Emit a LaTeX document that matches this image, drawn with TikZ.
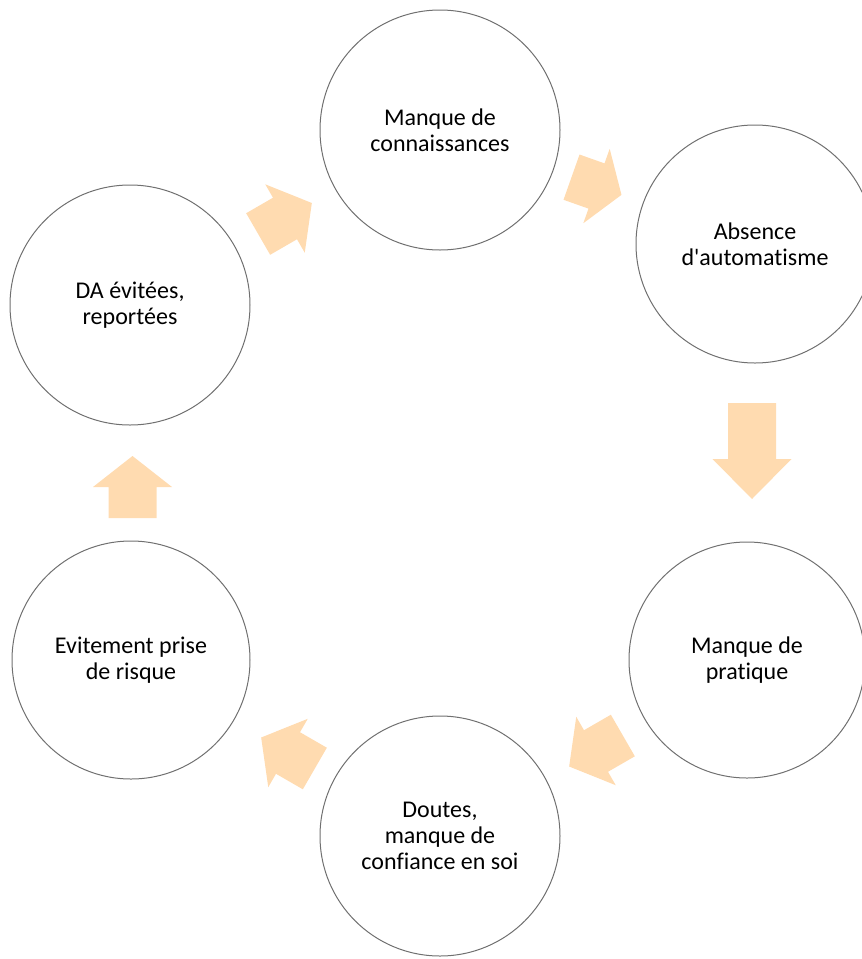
\documentclass[tikz,border=0pt]{standalone}
\usepackage{fontspec}
\setmainfont{Carlito}[Ligatures={NoCommon}]

\definecolor{ringgray}{RGB}{112,112,112}
\definecolor{arrowfill}{RGB}{255,219,176}

\tikzset{
    pics/blockarrow/.style n args={2}{code={
        \fill[arrowfill] (-#1/2,-24) -- (#1/2-#2,-24) -- (#1/2-#2,-39.5) -- (#1/2,0)
            -- (#1/2-#2,39.5) -- (#1/2-#2,24) -- (-#1/2,24) -- cycle;
    }}
}

\begin{document}
\begin{tikzpicture}[
        x=1pt, y=-1pt,
        every node/.style = {shape=circle, draw=ringgray, line width=1pt, align=center, inner sep=0pt, font=\fontsize{24}{26}\selectfont}
    ]
        \useasboundingbox (0,0) rectangle (862,959);

        \node (knowledge) [minimum size=240pt] at (440,130) {Manque de\\connaissances};
        \node (automatism) [minimum size=238pt] at (755,244) {Absence\\d\textquotesingle automatisme};
        \node (practice) [minimum size=236pt] at (747,660) {Manque de\\pratique};
        \node (doubts) [minimum size=240pt] at (440,836) {Doutes,\\manque de\\confiance en soi};
        \node (avoidance) [minimum size=238pt] at (131,660) {Evitement prise\\de risque};
        \node (postponed) [minimum size=240pt] at (130,305) {DA évitées,\\reportées};

        \pic[rotate=30] at (285,218.5) {blockarrow={62}{31}};
        \pic[rotate=-19.5] at (596.5,186) {blockarrow={53}{26.5}};
        \pic[rotate=-90] at (752,451) {blockarrow={96}{40}};
        \pic[rotate=210] at (596,751) {blockarrow={62}{31}};
        \pic[rotate=150] at (288,753) {blockarrow={62}{31}};
        \pic[rotate=90] at (132.5,487) {blockarrow={62}{31}};
    \end{tikzpicture}
\end{document}
